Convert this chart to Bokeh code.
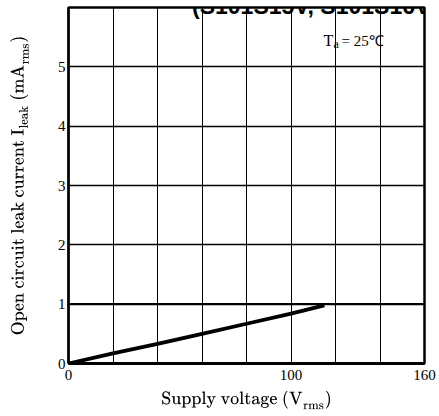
from bokeh.plotting import figure
from bokeh.models import Label, FixedTicker, Range1d
from bokeh.embed import file_html
from bokeh.resources import INLINE

# Open circuit leak current vs. supply voltage (Ta = 25 C)
voltage = [0, 20, 40, 60, 80, 100, 115]
leak_current = [0.0, 0.17, 0.33, 0.50, 0.67, 0.84, 0.98]

x_tick_values = [0, 100, 160]
y_tick_values = [0, 1, 2, 3, 4, 5]
x_grid_values = [20, 40, 60, 80, 100, 120, 140]
y_grid_values = [2, 3, 4, 5]

title_text = "(S101S15V, S101S16V)"
x_title = r"$$\text{Supply voltage (V}_{\text{rms}}\text{)}$$"
y_title = (r"$$\text{Open circuit leak current I}_{\text{leak}}"
           r"\text{ (mA}_{\text{rms}}\text{)}$$")

# canvas and frame geometry (pixels)
W, H = 439, 416
LEFT, RIGHT, TOP, BOTTOM = 68, 15, 7, 53
X0, X1, Y0, Y1 = 0, 160, 0, 6
FW = W - LEFT - RIGHT
FH = H - TOP - BOTTOM


def dx(px):
    """canvas x pixel -> data x"""
    return X0 + (px - LEFT) / FW * (X1 - X0)


def dy(py):
    """canvas y pixel (from top) -> data y"""
    return Y0 + (H - BOTTOM - py) / FH * (Y1 - Y0)


SERIF = "Liberation Serif"

p = figure(
    width=W, height=H,
    x_range=Range1d(X0, X1), y_range=Range1d(Y0, Y1),
    output_backend="svg", toolbar_location=None,
    min_border_left=LEFT, min_border_right=RIGHT,
    min_border_top=TOP, min_border_bottom=BOTTOM,
    background_fill_color="white", border_fill_color="white",
)

p.outline_line_color = "black"
p.outline_line_width = 2.5
p.outline_line_alpha = 1.0

# grid
p.xgrid.ticker = FixedTicker(ticks=x_grid_values)
p.xgrid.grid_line_color = "black"
p.xgrid.grid_line_width = 1
p.ygrid.ticker = FixedTicker(ticks=y_grid_values)
p.ygrid.grid_line_color = "black"
p.ygrid.grid_line_width = 1.5

# the 1 mA line is drawn heavier
p.line([X0, X1], [1, 1], line_color="black", line_width=2.2)

# axes
p.xaxis.ticker = FixedTicker(ticks=x_tick_values)
p.yaxis.ticker = FixedTicker(ticks=y_tick_values)
for ax in (p.xaxis, p.yaxis):
    ax.major_tick_in = 0
    ax.major_tick_out = 0
    ax.minor_tick_in = 0
    ax.minor_tick_out = 0
    ax.axis_line_color = "black"
    ax.major_label_text_font = SERIF
    ax.major_label_text_font_size = "15px"
    ax.major_label_text_color = "black"
    ax.axis_label_text_font = SERIF
    ax.axis_label_text_font_style = "normal"
    ax.axis_label_text_color = "black"
p.xaxis.axis_label_text_font_size = "16.5px"
p.yaxis.axis_label_text_font_size = "17px"
p.xaxis.axis_line_width = 3
p.yaxis.axis_line_width = 2
p.xaxis.major_label_standoff = 6
p.yaxis.major_label_standoff = 3
p.xaxis.axis_label = x_title
p.yaxis.axis_label = y_title
p.xaxis.axis_label_standoff = 8
p.yaxis.axis_label_standoff = 26

# characteristic curve
p.line(voltage, leak_current, line_color="black", line_width=3.8)

# heading along the top edge
p.add_layout(Label(
    x=dx(314.5), y=dy(5), text=title_text,
    text_font="Liberation Sans", text_font_style="bold",
    text_font_size="23px", text_align="center",
    text_baseline="alphabetic", text_color="black",
))

# ambient temperature note: T_a = 25 C
for txt, px, py, size in [("T", 323, 40, "16px"), ("a", 333, 43, "12px"),
                          ("= 25\u2103", 341, 40, "15px")]:
    p.add_layout(Label(
        x=dx(px), y=dy(py), text=txt, text_font=SERIF,
        text_font_size=size, text_align="left",
        text_baseline="alphabetic", text_color="black",
    ))

open("out.html", "w").write(file_html(p, INLINE))
